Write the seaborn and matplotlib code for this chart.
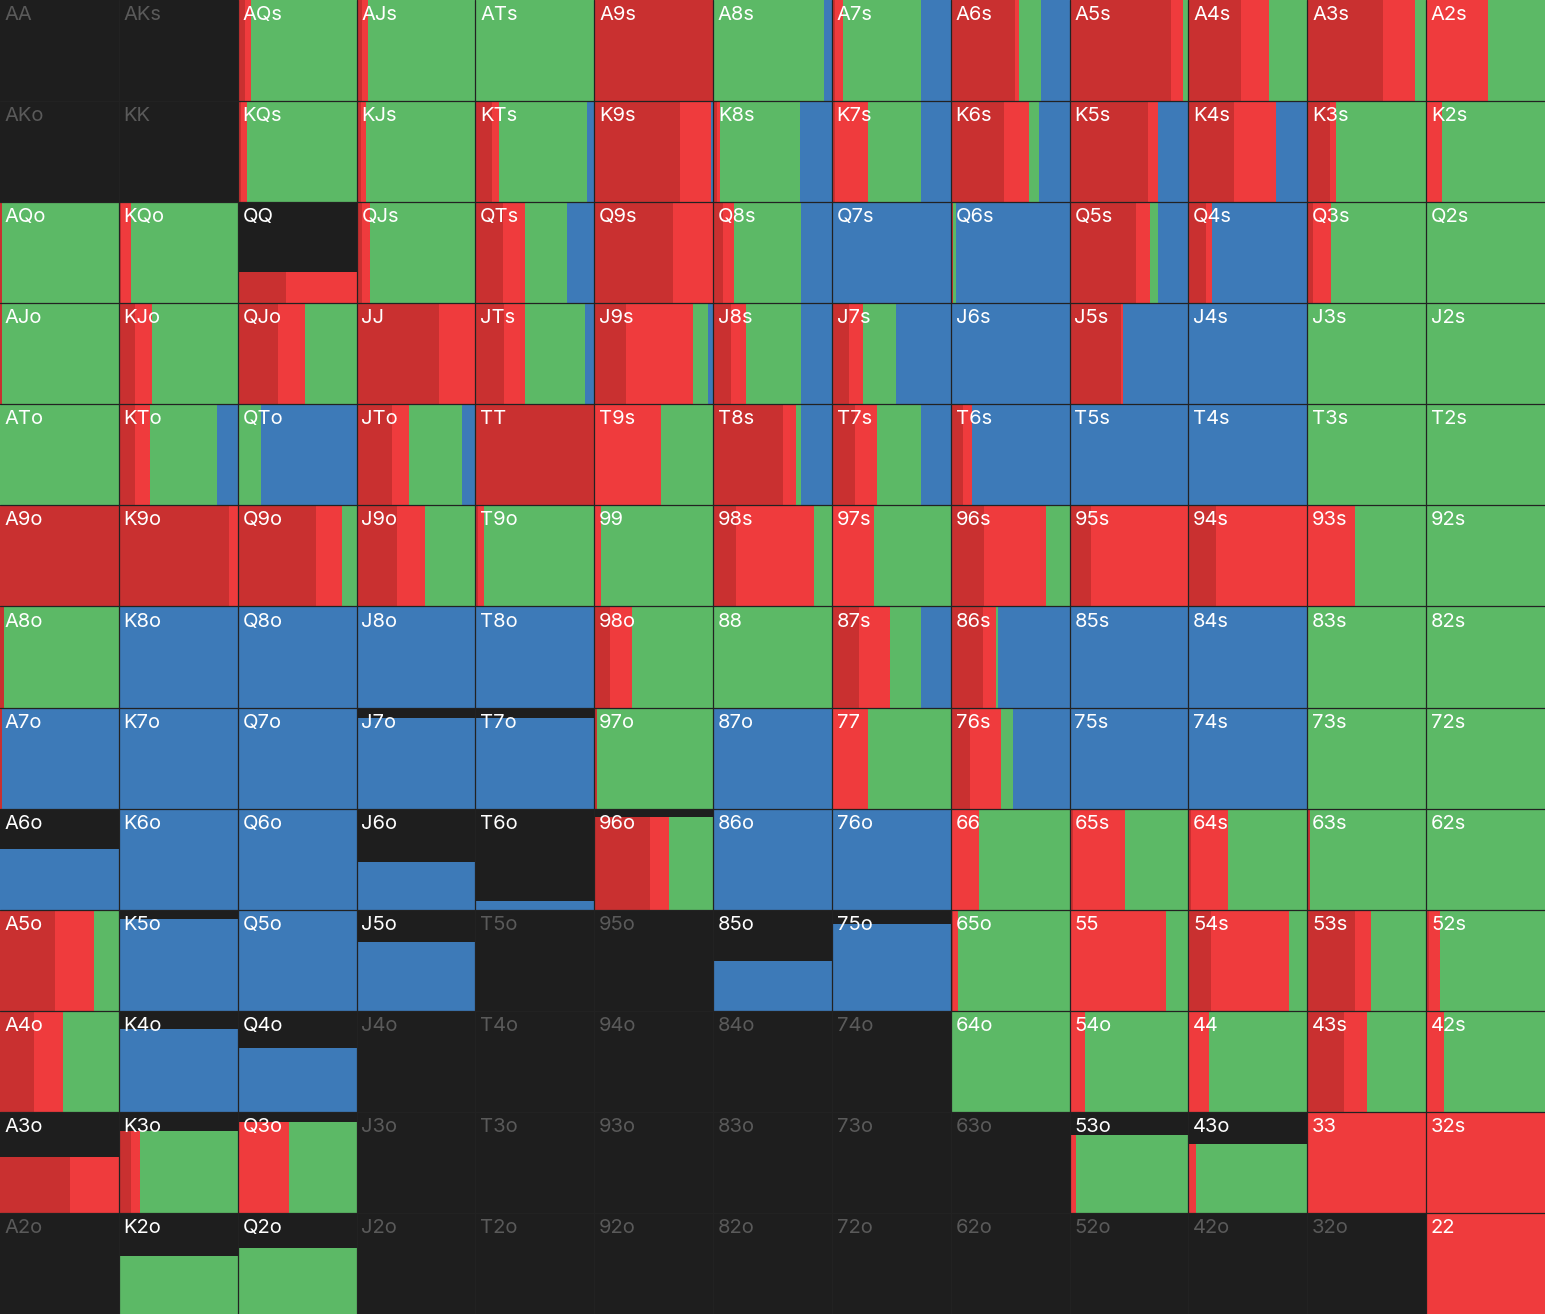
import matplotlib
matplotlib.use("Agg")
import matplotlib.pyplot as plt
import seaborn as sns

sns.set_theme(style="white")
plt.rcParams['font.family'] = ['Inter', 'DejaVu Sans']

RANKS = list("AKQJT98765432")
# each cell: (filled height, dark red, red, green, blue) widths as fraction
ROW_A = [(0,0,0,0,0),(0,0,0,0,0),(1,.06,.05,.89,0),(1,.05,.05,.9,0),(1,0,0,1,0),(1,1,0,0,0),(1,0,0,.93,.07),(1,.03,.06,.66,.25),(1,.54,.03,.19,.24),(1,.85,.1,.05,0),(1,.44,.24,.32,0),(1,.64,.27,.09,0),(1,0,.52,.48,0)]
ROW_K = [(0,0,0,0,0),(0,0,0,0,0),(1,.03,.05,.92,0),(1,.04,.04,.92,0),(1,.14,.06,.74,.06),(1,.72,.26,0,.02),(1,.03,.03,.67,.27),(1,.03,.27,.45,.25),(1,.45,.21,.08,.26),(1,.66,.08,0,.26),(1,.38,.36,0,.26),(1,.19,.05,.76,0),(1,0,.13,.87,0)]
ROW_Q = [(1,.02,0,.98,0),(1,.02,.08,.9,0),(.31,.41,.59,0,0),(1,.05,.06,.89,0),(1,.23,.19,.35,.23),(1,.66,.34,0,0),(1,.08,.1,.56,.26),(1,0,0,0,1),(1,.02,0,.02,.96),(1,.56,.12,.06,.26),(1,.15,.05,0,.8),(1,.05,.15,.8,0),(1,0,0,1,0)]
ROW_J = [(1,.02,0,.98,0),(1,.14,.14,.72,0),(1,.34,.23,.43,0),(1,.69,.31,0,0),(1,.24,.18,.5,.08),(1,.27,.56,.13,.04),(1,.15,.13,.46,.26),(1,.14,.12,.28,.46),(1,0,0,0,1),(1,.43,.02,0,.55),(1,0,0,0,1),(1,0,0,1,0),(1,0,0,1,0)]
ROW_T = [(1,0,0,1,0),(1,.14,.12,.57,.17),(1,0,0,.2,.8),(1,.3,.14,.45,.11),(1,1,0,0,0),(1,0,.56,.44,0),(1,.59,.11,.04,.26),(1,.19,.19,.37,.25),(1,.1,.08,0,.82),(1,0,0,0,1),(1,0,0,0,1),(1,0,0,1,0),(1,0,0,1,0)]
ROW_9 = [(1,1,0,0,0),(1,.93,.07,0,0),(1,.66,.22,.12,0),(1,.34,.24,.42,0),(1,.02,.05,.93,0),(1,0,.06,.94,0),(1,.19,.66,.15,0),(1,0,.35,.65,0),(1,.28,.52,.2,0),(1,.18,.82,0,0),(1,.23,.77,0,0),(1,0,.4,.6,0),(1,0,0,1,0)]
ROW_8 = [(1,.03,0,.97,0),(1,0,0,0,1),(1,0,0,0,1),(1,0,0,0,1),(1,0,0,0,1),(1,.13,.19,.68,0),(1,0,0,1,0),(1,.23,.26,.26,.25),(1,.27,.11,.02,.6),(1,0,0,0,1),(1,0,0,0,1),(1,0,0,1,0),(1,0,0,1,0)]
ROW_7 = [(1,.02,0,0,.98),(1,0,0,0,1),(1,0,0,0,1),(.9,0,0,0,1),(.9,0,0,0,1),(1,.02,0,.98,0),(1,0,0,0,1),(1,0,.3,.7,0),(1,.16,.26,.1,.48),(1,0,0,0,1),(1,0,0,0,1),(1,0,0,1,0),(1,0,0,1,0)]
ROW_6 = [(.6,0,0,0,1),(1,0,0,0,1),(1,0,0,0,1),(.47,0,0,0,1),(.09,0,0,0,1),(.92,.47,.16,.37,0),(1,0,0,0,1),(1,0,0,0,1),(1,0,.24,.76,0),(1,.03,.44,.53,0),(1,.02,.31,.67,0),(1,.02,0,.98,0),(1,0,0,1,0)]
ROW_5 = [(1,.46,.33,.21,0),(.91,0,0,0,1),(1,0,0,0,1),(.68,0,0,0,1),(0,0,0,0,0),(0,0,0,0,0),(.49,0,0,0,1),(.86,0,0,0,1),(1,.02,.04,.94,0),(1,0,.81,.19,0),(1,.19,.66,.15,0),(1,.4,.14,.46,0),(1,.02,.1,.88,0)]
ROW_4 = [(1,.29,.24,.47,0),(.82,0,0,0,1),(.63,0,0,0,1),(0,0,0,0,0),(0,0,0,0,0),(0,0,0,0,0),(0,0,0,0,0),(0,0,0,0,0),(.99,0,0,1,0),(1,0,.13,.87,0),(1,0,.17,.83,0),(1,.31,.19,.5,0),(1,0,.15,.85,0)]
ROW_3 = [(.55,.59,.41,0,0),(.81,.1,.08,.82,0),(.9,0,.43,.57,0),(0,0,0,0,0),(0,0,0,0,0),(0,0,0,0,0),(0,0,0,0,0),(0,0,0,0,0),(0,0,0,0,0),(.77,0,.05,.95,0),(.68,0,.06,.94,0),(1,0,1,0,0),(1,0,1,0,0)]
ROW_2 = [(0,0,0,0,0),(.57,0,0,1,0),(.65,0,0,1,0),(0,0,0,0,0),(0,0,0,0,0),(0,0,0,0,0),(0,0,0,0,0),(0,0,0,0,0),(0,0,0,0,0),(0,0,0,0,0),(0,0,0,0,0),(0,0,0,0,0),(1,0,1,0,0)]
ROWS = [ROW_A, ROW_K, ROW_Q, ROW_J, ROW_T, ROW_9, ROW_8, ROW_7, ROW_6, ROW_5, ROW_4, ROW_3, ROW_2]
COLORS = ['#c93030', '#ef3b3d', '#5cb966', '#3d7ab8']

fig = plt.figure(figsize=(15.45, 13.14), dpi=100)
ax = fig.add_axes([0, 0, 1, 1])
ax.set_facecolor('#1e1e1e')
fig.patch.set_facecolor('#1e1e1e')

for r, row in enumerate(ROWS):
    for c, cell in enumerate(row):
        h = cell[0]
        left = 0.0
        for w, col in zip(cell[1:], COLORS):
            if w > 0 and h > 0:
                ax.bar(c + left, h, width=w, bottom=r + 1 - h, align='edge',
                       color=col, linewidth=0)
            left += w
        if r == c:
            lab = RANKS[r] * 2
        elif c > r:
            lab = RANKS[r] + RANKS[c] + 's'
        else:
            lab = RANKS[c] + RANKS[r] + 'o'
        ax.text(c + 0.04, r + 0.06, lab, ha='left', va='top', fontsize=14.5,
                color='white' if h > 0 else '#5a5a5a')

for k in range(1, 13):
    ax.axvline(k, color='#222222', lw=0.9)
    ax.axhline(k, color='#222222', lw=0.9)
ax.set_xlim(0, 13)
ax.set_ylim(13, 0)
ax.set_xticks([]); ax.set_yticks([])
for s in ax.spines.values():
    s.set_visible(False)
fig.savefig('out.png', dpi=100)
